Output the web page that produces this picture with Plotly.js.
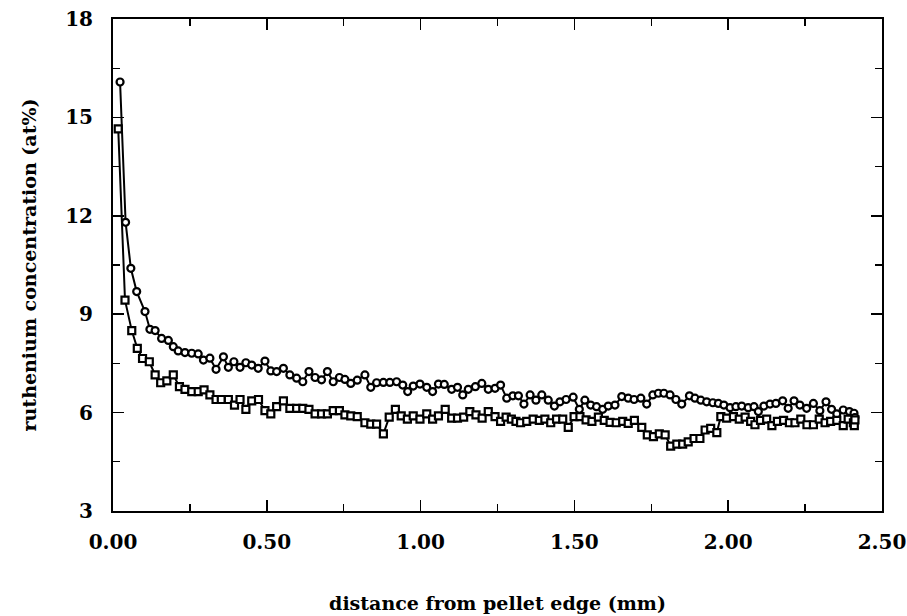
<!DOCTYPE html>
<html>
<head>
<meta charset="utf-8">
<script src="https://cdn.plot.ly/plotly-3.0.1.min.js"></script>
<style>html,body{margin:0;padding:0;background:#fff;}#chart{width:907px;height:616px;}</style>
</head>
<body>
<div id="chart"></div>
<script>
// Circles series (upper curve)
const circleX = [0.023,0.041,0.058,0.077,0.104,0.120,0.137,0.158,0.180,0.196,0.212,0.234,0.256,0.277,0.294,0.315,0.335,0.359,0.375,0.393,0.413,0.432,0.451,0.472,0.494,0.513,0.532,0.554,0.575,0.597,0.617,0.637,0.657,0.678,0.697,0.716,0.736,0.754,0.773,0.794,0.819,0.838,0.857,0.879,0.900,0.922,0.942,0.958,0.976,0.998,1.020,1.039,1.058,1.077,1.101,1.120,1.137,1.155,1.178,1.199,1.220,1.242,1.260,1.280,1.300,1.318,1.336,1.356,1.375,1.394,1.415,1.435,1.453,1.473,1.496,1.516,1.534,1.553,1.572,1.592,1.610,1.632,1.654,1.675,1.694,1.716,1.735,1.755,1.773,1.791,1.811,1.830,1.849,1.874,1.892,1.911,1.930,1.950,1.968,1.986,2.006,2.025,2.044,2.065,2.084,2.098,2.116,2.136,2.155,2.177,2.195,2.214,2.233,2.255,2.277,2.298,2.318,2.336,2.353,2.374,2.394,2.409,2.412];
const circleY = [16.08,11.80,10.40,9.69,9.08,8.54,8.50,8.26,8.20,8.01,7.88,7.83,7.81,7.79,7.60,7.66,7.32,7.70,7.38,7.55,7.38,7.52,7.45,7.35,7.57,7.27,7.25,7.35,7.15,7.05,6.94,7.25,7.07,7.00,7.25,6.94,7.07,7.01,6.89,6.99,7.15,6.77,6.91,6.92,6.92,6.94,6.84,6.64,6.81,6.87,6.77,6.64,6.87,6.86,6.71,6.77,6.54,6.71,6.79,6.89,6.71,6.74,6.84,6.44,6.51,6.51,6.26,6.54,6.38,6.54,6.38,6.20,6.33,6.40,6.47,6.10,6.38,6.23,6.18,6.10,6.20,6.23,6.49,6.44,6.40,6.44,6.26,6.54,6.59,6.59,6.54,6.40,6.26,6.51,6.44,6.38,6.33,6.30,6.28,6.23,6.15,6.18,6.20,6.15,6.18,6.03,6.20,6.26,6.28,6.36,6.13,6.36,6.23,6.13,6.28,6.06,6.33,6.10,5.96,6.08,6.03,5.98,5.85];

// Squares series (lower curve)
const squareX = [0.017,0.039,0.061,0.079,0.096,0.118,0.137,0.155,0.175,0.196,0.216,0.234,0.256,0.277,0.296,0.315,0.335,0.352,0.375,0.395,0.413,0.432,0.451,0.473,0.494,0.513,0.532,0.554,0.575,0.597,0.617,0.637,0.657,0.678,0.697,0.716,0.736,0.754,0.773,0.794,0.819,0.838,0.857,0.879,0.898,0.918,0.937,0.957,0.976,0.998,1.020,1.039,1.058,1.080,1.101,1.120,1.140,1.160,1.180,1.200,1.220,1.242,1.260,1.278,1.295,1.310,1.325,1.345,1.366,1.386,1.404,1.423,1.442,1.462,1.480,1.499,1.518,1.538,1.557,1.578,1.597,1.616,1.636,1.657,1.675,1.695,1.719,1.737,1.757,1.776,1.795,1.813,1.833,1.852,1.870,1.889,1.908,1.925,1.943,1.963,1.976,1.995,2.017,2.036,2.055,2.073,2.087,2.105,2.125,2.142,2.160,2.180,2.199,2.217,2.236,2.256,2.277,2.296,2.315,2.333,2.353,2.374,2.390,2.407,2.410,2.412];
const squareY = [14.65,9.43,8.50,7.96,7.65,7.55,7.15,6.91,6.97,7.15,6.79,6.71,6.64,6.64,6.69,6.54,6.40,6.40,6.40,6.23,6.40,6.10,6.36,6.40,6.06,5.96,6.18,6.36,6.13,6.13,6.13,6.10,5.96,5.96,5.96,6.06,6.06,5.93,5.90,5.88,5.69,5.65,5.65,5.35,5.86,6.10,5.90,5.80,5.90,5.80,5.96,5.80,5.90,6.10,5.83,5.83,5.86,6.03,5.93,5.83,6.03,5.88,5.73,5.86,5.80,5.73,5.69,5.73,5.80,5.76,5.80,5.69,5.80,5.80,5.55,5.88,5.88,5.78,5.73,5.86,5.76,5.70,5.69,5.73,5.67,5.76,5.55,5.32,5.27,5.35,5.32,4.98,5.04,5.04,5.11,5.21,5.21,5.47,5.52,5.39,5.88,5.83,5.88,5.80,5.86,5.73,5.63,5.76,5.80,5.60,5.73,5.76,5.69,5.69,5.80,5.63,5.63,5.80,5.69,5.73,5.76,5.60,5.80,5.69,5.60,5.78];

const xTickVals = [0, 0.5, 1.0, 1.5, 2.0, 2.5];
const xTickText = ["0.00", "0.50", "1.00", "1.50", "2.00", "2.50"];
const yTickVals = [3, 6, 9, 12, 15, 18];
const yTickText = ["3", "6", "9", "12", "15", "18"];

const serif = '"DejaVu Serif", "Liberation Serif", serif';

const traces = [
  {
    x: circleX, y: circleY, type: 'scatter', mode: 'lines+markers',
    line: {color: '#000', width: 2},
    marker: {symbol: 'circle', size: 7, color: '#fff', line: {color: '#000', width: 2.2}},
    showlegend: false, hoverinfo: 'skip'
  },
  {
    x: squareX, y: squareY, type: 'scatter', mode: 'lines+markers',
    line: {color: '#000', width: 2},
    marker: {symbol: 'square', size: 7, color: '#fff', line: {color: '#000', width: 2.2}},
    showlegend: false, hoverinfo: 'skip'
  }
];

const axisCommon = {
  showline: true, linecolor: '#000', linewidth: 2, mirror: 'ticks',
  ticks: 'inside', ticklen: 11, tickwidth: 1.6, tickcolor: '#000',
  showgrid: false, zeroline: false,
  tickfont: {family: serif, size: 20, color: '#000', weight: 'bold'}
};

const layout = {
  width: 907, height: 616,
  margin: {l: 113, r: 25, t: 19, b: 105},
  paper_bgcolor: '#fff', plot_bgcolor: '#fff',
  xaxis: Object.assign({}, axisCommon, {
    range: [0, 2.5], tickvals: xTickVals, ticktext: xTickText,
    minor: {dtick: 0.25, tick0: 0, ticks: 'inside', ticklen: 7, tickwidth: 1.3, tickcolor: '#000'},
    ticklabelstandoff: 12,
    title: {text: 'distance from pellet edge (mm)', standoff: 44,
            font: {family: serif, size: 19, color: '#000', weight: 'bold'}}
  }),
  yaxis: Object.assign({}, axisCommon, {
    range: [3, 18], tickvals: yTickVals, ticktext: yTickText,
    minor: {dtick: 1.5, tick0: 3, ticks: 'inside', ticklen: 7, tickwidth: 1.3, tickcolor: '#000'},
    ticklabelstandoff: 14,
    title: {text: 'ruthenium concentration (at%)', standoff: 24,
            font: {family: serif, size: 19, color: '#000', weight: 'bold'}}
  })
};

Plotly.newPlot('chart', traces, layout, {displayModeBar: false, staticPlot: true});
</script>
</body>
</html>
